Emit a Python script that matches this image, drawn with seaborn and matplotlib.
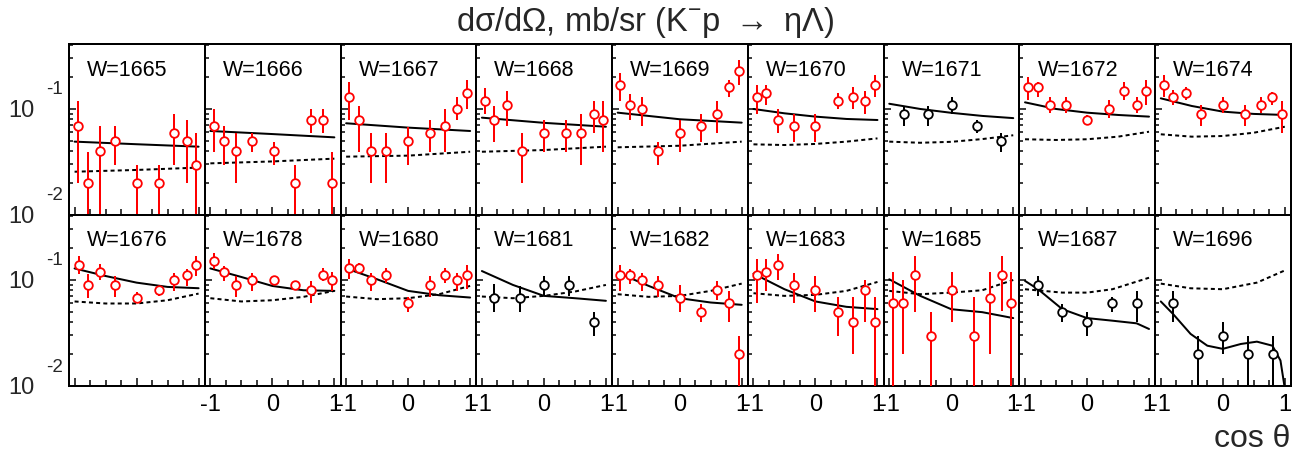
import numpy as np
import pandas as pd
import matplotlib
matplotlib.use("Agg")
import matplotlib.pyplot as plt
import seaborn as sns
from matplotlib.ticker import LogLocator, NullFormatter, FixedLocator, MultipleLocator

# ---------------- data ----------------
W_LABELS = [1665, 1666, 1667, 1668, 1669, 1670, 1671, 1672, 1674,
            1676, 1678, 1680, 1681, 1682, 1683, 1685, 1687, 1696]
POINT_COLORS = ["red", "red", "red", "red", "red", "red", "black", "red", "red",
                "red", "red", "red", "black", "red", "red", "red", "black", "black"]

COS_PTS = [
    [-0.94, -0.79, -0.59, -0.34, 0.0, 0.36, 0.6, 0.81, 0.96],
    [-0.94, -0.78, -0.58, -0.33, 0.02, 0.36, 0.62, 0.81, 0.96],
    [-0.95, -0.8, -0.6, -0.35, 0.0, 0.35, 0.6, 0.79, 0.95],
    [-0.95, -0.8, -0.6, -0.36, 0.0, 0.35, 0.6, 0.8, 0.95],
    [-0.96, -0.8, -0.6, -0.35, 0.0, 0.35, 0.6, 0.8, 0.95],
    [-0.95, -0.79, -0.6, -0.35, 0.0, 0.36, 0.6, 0.8, 0.96],
    [-0.77, -0.38, 0.02, 0.42, 0.8],
    [-0.95, -0.79, -0.6, -0.34, 0.0, 0.35, 0.6, 0.8, 0.95],
    [-0.95, -0.8, -0.6, -0.35, 0.01, 0.35, 0.61, 0.8, 0.96],
    [-0.935, -0.79, -0.59, -0.34, 0.0, 0.36, 0.6, 0.81, 0.96],
    [-0.935, -0.78, -0.58, -0.33, 0.02, 0.36, 0.62, 0.81, 0.96],
    [-0.95, -0.8, -0.6, -0.35, 0.0, 0.35, 0.6, 0.79, 0.95],
    [-0.8, -0.39, 0.0, 0.4, 0.8],
    [-0.96, -0.8, -0.6, -0.35, 0.0, 0.35, 0.6, 0.8, 0.95],
    [-0.95, -0.79, -0.6, -0.35, 0.0, 0.36, 0.6, 0.8, 0.96],
    [-0.935, -0.78, -0.58, -0.33, 0.02, 0.37, 0.62, 0.82, 0.97],
    [-0.79, -0.4, 0.0, 0.41, 0.8],
    [-0.8, -0.4, 0.01, 0.41, 0.81],
]
DSIG = [
    [0.0697, 0.0199, 0.040, 0.0496, 0.0199, 0.0199, 0.0594, 0.0496, 0.0299],
    [0.0697, 0.0496, 0.040, 0.0496, 0.040, 0.0199, 0.0787, 0.0787, 0.0199],
    [0.1306, 0.0787, 0.040, 0.040, 0.0496, 0.0594, 0.0697, 0.1, 0.1405],
    [0.119, 0.0787, 0.109, 0.040, 0.0594, 0.0594, 0.0594, 0.089, 0.0787],
    [0.168, 0.109, 0.1, 0.040, 0.0594, 0.0697, 0.0897, 0.1625, 0.230],
    [0.1306, 0.1405, 0.0787, 0.0697, 0.0697, 0.119, 0.1306, 0.119, 0.168],
    [0.0897, 0.0897, 0.109, 0.0697, 0.0496],
    [0.1625, 0.1625, 0.109, 0.109, 0.0787, 0.1, 0.149, 0.109, 0.149],
    [0.168, 0.1306, 0.1405, 0.0897, 0.109, 0.0897, 0.109, 0.1306, 0.0897],
    [0.138, 0.0898, 0.119, 0.0898, 0.0683, 0.080, 0.1, 0.1106, 0.138],
    [0.150, 0.119, 0.0898, 0.1, 0.1, 0.0898, 0.080, 0.1106, 0.1],
    [0.1306, 0.1306, 0.1, 0.1106, 0.060, 0.0898, 0.1106, 0.1, 0.1106],
    [0.0683, 0.0683, 0.0898, 0.0898, 0.0398],
    [0.1106, 0.1106, 0.1, 0.0898, 0.0683, 0.0501, 0.080, 0.060, 0.0201],
    [0.1106, 0.119, 0.138, 0.0898, 0.080, 0.0501, 0.0398, 0.080, 0.0398],
    [0.060, 0.060, 0.1106, 0.0299, 0.080, 0.0299, 0.0683, 0.1106, 0.060],
    [0.0898, 0.0501, 0.0398, 0.060, 0.060],
    [0.060, 0.0201, 0.0299, 0.0201, 0.0201],
]
ERR_LO = [
    [0.0199, 0.005, 0.005, 0.0296, 0.005, 0.005, 0.0296, 0.0199, 0.005],
    [0.0395, 0.0296, 0.0199, 0.0395, 0.0296, 0.005, 0.0589, 0.0589, 0.005],
    [0.0787, 0.0395, 0.0199, 0.0199, 0.0296, 0.0395, 0.0395, 0.0787, 0.1],
    [0.089, 0.0492, 0.069, 0.0199, 0.0395, 0.0395, 0.0296, 0.0589, 0.0395],
    [0.119, 0.0787, 0.0697, 0.0296, 0.0395, 0.0492, 0.0589, 0.131, 0.168],
    [0.089, 0.109, 0.0589, 0.0492, 0.0492, 0.1, 0.1, 0.089, 0.1306],
    [0.0697, 0.0697, 0.09, 0.0589, 0.0395],
    [0.1215, 0.131, 0.091, 0.091, 0.0706, 0.0816, 0.1215, 0.091, 0.109],
    [0.1306, 0.109, 0.1215, 0.0697, 0.091, 0.0697, 0.091, 0.109, 0.0589],
    [0.113, 0.0683, 0.0993, 0.0693, 0.0613, 0.0708, 0.0789, 0.0878, 0.109],
    [0.126, 0.098, 0.0693, 0.0789, 0.1, 0.0818, 0.060, 0.098, 0.0789],
    [0.1015, 0.117, 0.0789, 0.0944, 0.0494, 0.0693, 0.0944, 0.0789, 0.0818],
    [0.0494, 0.0494, 0.0708, 0.0708, 0.0299],
    [0.0789, 0.091, 0.0789, 0.0693, 0.0494, 0.0398, 0.0644, 0.0398, 0.005],
    [0.060, 0.0789, 0.0993, 0.060, 0.0494, 0.0299, 0.0201, 0.0398, 0.005],
    [0.005, 0.0201, 0.0494, 0.005, 0.0398, 0.005, 0.0201, 0.0512, 0.005],
    [0.0708, 0.0398, 0.0299, 0.0494, 0.0398],
    [0.0398, 0.005, 0.0201, 0.005, 0.005],
]
ERR_HI = [
    [0.119, 0.039, 0.069, 0.069, 0.0296, 0.0296, 0.089, 0.0787, 0.0589],
    [0.1, 0.069, 0.0589, 0.0589, 0.0492, 0.0296, 0.1, 0.1, 0.0395],
    [0.1786, 0.107, 0.0589, 0.0589, 0.068, 0.0787, 0.1, 0.1288, 0.188],
    [0.159, 0.107, 0.148, 0.0589, 0.0787, 0.0787, 0.089, 0.119, 0.119],
    [0.217, 0.137, 0.1288, 0.0492, 0.0787, 0.089, 0.119, 0.188, 0.29],
    [0.168, 0.168, 0.1, 0.089, 0.089, 0.1405, 0.1625, 0.148, 0.209],
    [0.107, 0.107, 0.1306, 0.0787, 0.0589],
    [0.2018, 0.181, 0.1306, 0.1306, 0.0878, 0.1215, 0.181, 0.1306, 0.188],
    [0.209, 0.151, 0.1625, 0.109, 0.1306, 0.109, 0.1306, 0.146, 0.119],
    [0.168, 0.113, 0.140, 0.109, 0.0778, 0.0878, 0.117, 0.126, 0.168],
    [0.18, 0.135, 0.109, 0.117, 0.1, 0.098, 0.098, 0.1285, 0.119],
    [0.156, 0.146, 0.117, 0.1285, 0.0693, 0.109, 0.1285, 0.117, 0.138],
    [0.091, 0.0878, 0.109, 0.109, 0.0494],
    [0.138, 0.126, 0.117, 0.109, 0.0898, 0.0591, 0.098, 0.0789, 0.0299],
    [0.156, 0.156, 0.1766, 0.117, 0.109, 0.0693, 0.0693, 0.0993, 0.0693],
    [0.119, 0.0993, 0.168, 0.0494, 0.119, 0.0693, 0.119, 0.168, 0.119],
    [0.109, 0.0591, 0.0494, 0.0693, 0.0789],
    [0.0789, 0.0299, 0.0398, 0.0299, 0.0299],
]

CURVE_X5 = [-1.0, -0.5, 0.0, 0.5, 1.0]
CURVE_X3 = [-1.0, 0.0, 1.0]
SOLID_X = [CURVE_X3] * 5 + [CURVE_X5] * 3 + [CURVE_X5] * 8 + \
          [[-1.0, -0.79, -0.4, 0.0, 0.41, 0.8, 1.0],
           [-1.0, -0.8, -0.52, -0.25, 0.0, 0.29, 0.55, 0.8, 0.93, 1.0]]
SOLID_Y = [
    [0.0492, 0.0465, 0.0441],
    [0.062, 0.058, 0.054],
    [0.0733, 0.0667, 0.062],
    [0.0828, 0.074, 0.068],
    [0.0923, 0.080, 0.0743],
    [0.1, 0.091, 0.0847, 0.0805, 0.0787],
    [0.112, 0.100, 0.092, 0.086, 0.082],
    [0.1155, 0.1, 0.0923, 0.0878, 0.0847],
    [0.126, 0.1067, 0.0944, 0.0898, 0.0878],
    [0.1285, 0.109, 0.0944, 0.086, 0.0836],
    [0.1285, 0.1067, 0.0878, 0.080, 0.0789],
    [0.1285, 0.1015, 0.0789, 0.0718, 0.0683],
    [0.1214, 0.0898, 0.0708, 0.0673, 0.0636],
    [0.117, 0.0879, 0.0673, 0.0613, 0.0583],
    [0.1148, 0.0818, 0.0627, 0.0558, 0.0531],
    [0.1015, 0.0708, 0.053, 0.0497, 0.0437],
    [0.098, 0.0818, 0.0531, 0.0437, 0.0413, 0.039, 0.0345],
    [0.0627, 0.0476, 0.031, 0.024, 0.0224, 0.0249, 0.0262, 0.024, 0.0174, 0.0095],
]
DOT_X = [CURVE_X3] * 5 + [CURVE_X5] * 11 + \
        [[-1.0, -0.4, 0.0, 0.41, 1.0], [-1.0, -0.52, 0.0, 0.55, 1.0]]
DOT_Y = [
    [0.0256, 0.0266, 0.028],
    [0.0307, 0.032, 0.034],
    [0.0355, 0.0363, 0.0395],
    [0.0395, 0.041, 0.0441],
    [0.0435, 0.045, 0.0492],
    [0.0464, 0.0457, 0.0468, 0.0492, 0.0528],
    [0.0492, 0.048, 0.049, 0.052, 0.0565],
    [0.0518, 0.051, 0.0518, 0.0548, 0.061],
    [0.0577, 0.0548, 0.0556, 0.0597, 0.068],
    [0.0627, 0.060, 0.060, 0.0644, 0.0744],
    [0.0673, 0.0627, 0.0644, 0.0693, 0.0789],
    [0.0698, 0.0659, 0.0673, 0.0734, 0.0879],
    [0.0698, 0.0673, 0.0708, 0.0778, 0.0898],
    [0.0734, 0.0693, 0.0708, 0.0789, 0.0924],
    [0.075, 0.0708, 0.0724, 0.0789, 0.0958],
    [0.0789, 0.0734, 0.076, 0.080, 0.1],
    [0.0818, 0.076, 0.076, 0.0818, 0.105],
    [0.0924, 0.0835, 0.0818, 0.0944, 0.123],
]
X_TICK_LABELS = ["-1", "0", "1"]

# ---------------- style ----------------
sns.set_theme(style="ticks")
plt.rcParams["font.family"] = ["Liberation Sans", "DejaVu Sans"]
plt.rcParams["axes.unicode_minus"] = False
plt.rcParams["mathtext.fontset"] = "custom"
plt.rcParams["mathtext.rm"] = "Liberation Sans"

PX = 72.0 / 100.0  # points per pixel at dpi 100

fig, axes = plt.subplots(2, 9, figsize=(13.12, 4.57), dpi=100)
fig.subplots_adjust(left=69 / 1312, right=1291 / 1312, top=1 - 44 / 457,
                    bottom=1 - 386 / 457, wspace=0, hspace=0)

for i, ax in enumerate(axes.flat):
    row, col = divmod(i, 9)
    color = POINT_COLORS[i]

    sol = pd.DataFrame({"x": SOLID_X[i], "y": SOLID_Y[i]})
    dot = pd.DataFrame({"x": DOT_X[i], "y": DOT_Y[i]})
    sns.lineplot(data=sol, x="x", y="y", ax=ax, color="black", lw=2.0 * PX,
                 sort=False, zorder=2)
    sns.lineplot(data=dot, x="x", y="y", ax=ax, color="black", lw=2.0 * PX,
                 sort=False, zorder=2, linestyle=(0, (2.0, 1.6)))

    y = np.array(DSIG[i])
    lo = np.array(ERR_LO[i])
    hi = np.array(ERR_HI[i])
    ax.errorbar(COS_PTS[i], y, yerr=[y - lo, hi - y], fmt="o", color=color,
                mfc="white", mec=color, ms=6.2, mew=1.3, elinewidth=2.0 * PX,
                capsize=0, zorder=3)

    ax.set_yscale("log")
    ax.set_ylim(0.01, 0.41)
    ax.set_xlim(-1.09, 1.10)
    ax.set_xlabel("")
    ax.set_ylabel("")

    ax.yaxis.set_major_locator(LogLocator(base=10, subs=(1.0,)))
    ax.yaxis.set_minor_locator(LogLocator(base=10, subs=np.arange(2, 10)))
    ax.yaxis.set_major_formatter(NullFormatter())
    ax.yaxis.set_minor_formatter(NullFormatter())
    ax.xaxis.set_major_locator(FixedLocator([-1, 0, 1]))
    ax.xaxis.set_minor_locator(MultipleLocator(0.25))

    ax.tick_params(axis="both", which="both", direction="in", top=False,
                   right=False, color="black", width=1.5 * PX)
    ax.tick_params(axis="y", which="major", length=7 * PX)
    ax.tick_params(axis="y", which="minor", length=4 * PX)
    ax.tick_params(axis="x", which="major", length=8 * PX)
    ax.tick_params(axis="x", which="minor", length=6 * PX)

    if row == 1 and col >= 1:
        ax.set_xticklabels(X_TICK_LABELS, fontsize=17)
        ax.tick_params(axis="x", which="major", pad=6, labelcolor="black")
    else:
        ax.set_xticklabels([])

    for sp in ax.spines.values():
        sp.set_visible(True)
        sp.set_color("black")
        sp.set_linewidth(2.0 * PX)

    ax.text(18 / 136, 1 - 26 / 171, f"W={W_LABELS[i]}", transform=ax.transAxes,
            ha="left", va="center", fontsize=15.5, color="black")

    if col == 0:
        for val, expo in [(0.1, "-1"), (0.01, "-2")]:
            ax.annotate("10", xy=(0, val), xycoords=("axes fraction", "data"),
                        xytext=(-34, -2), textcoords="offset pixels",
                        ha="right", va="center", fontsize=17, annotation_clip=False)
            ax.annotate(expo, xy=(0, val), xycoords=("axes fraction", "data"),
                        xytext=(-6, 19), textcoords="offset pixels",
                        ha="right", va="center", fontsize=13.5, annotation_clip=False)

fig.text(645 / 1312, 1 - 23 / 457, r"dσ/dΩ, mb/sr (K$^{-}$p $\rightarrow$ ηΛ)",
         ha="center", va="center", fontsize=23.5)
fig.text(1290 / 1312, 1 - 447 / 457, "cos θ", ha="right", va="baseline",
         fontsize=23)

fig.savefig("out.png", dpi=100, facecolor="white")
